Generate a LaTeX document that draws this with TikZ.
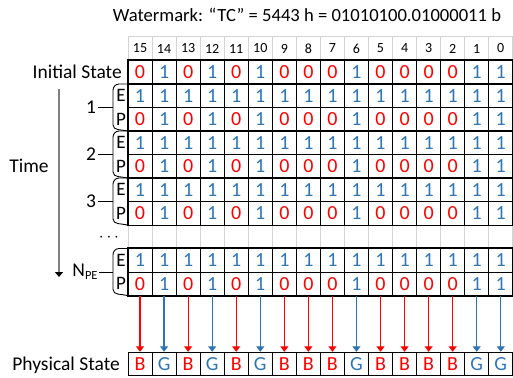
\documentclass[tikz,border=0pt]{standalone}
\usepackage{fontspec}
\setmainfont{Carlito}
\usetikzlibrary{arrows.meta}
\definecolor{bblue}{HTML}{2E75B6}
\definecolor{rred}{HTML}{FF0000}
\definecolor{lgray}{HTML}{D4D4D4}
\definecolor{tgray}{HTML}{808080}
\begin{document}
\begin{tikzpicture}[x=1pt,y=-1pt,
  cell/.style={draw, line width=0.9pt, minimum width=24.05pt, minimum height=23.5pt, inner sep=0pt, font=\fontsize{20}{20}\selectfont},
  bit0/.style={text=rred},
  bit1/.style={text=bblue},
  col0/.style={draw=rred},
  col1/.style={draw=bblue},
  block/.style={draw, line width=1.4pt},
  hdr/.style={font=\fontsize{14}{14}\selectfont, inner sep=0pt},
  lbl/.style={font=\fontsize{19.5}{20}\selectfont, inner sep=0pt},
  eplbl/.style={font=\fontsize{19}{19}\selectfont, inner sep=0pt},
  brk/.style={line width=0.9pt},
  arr/.style={line width=1.2pt, -{Triangle[width=8pt,length=5.5pt]}},
  grayln/.style={draw=lgray, line width=1pt}
]
\useasboundingbox (0,0) rectangle (513,377);
\def\bits{0,1,0,1,0,1,0,0,0,1,0,0,0,0,1,1}
\def\w{24.05}
% title
\node[font=\fontsize{18.6}{19}\selectfont, inner sep=0pt] (title) at (307,15) {Watermark: “TC” = 5443 h = 01010100.01000011 b};
% header
\draw[grayln] (128,37) -- (512.8,37);
\foreach \i in {0,...,16}{
  \draw[grayln] ({128+\w*\i},37) -- ({128+\w*\i},60.5);
  \draw[grayln] ({128+\w*\i},225) -- ({128+\w*\i},248.5);
}
\foreach \i in {0,...,15}{
  \pgfmathtruncatemacro{\n}{15-\i}
  \node[hdr] (h-\i) at ({128+\w*(\i+0.5)},48.5) {\n};
}
% initial state
\foreach \b [count=\c from 0] in \bits{
  \node[cell, bit\b] (ini-\c) at ({128+\w*(\c+0.5)},72.25) {\b};
}
\draw[block] (ini-0.north west) rectangle (ini-15.south east);
\node[lbl, anchor=east] (initlbl) at (122,72) {Initial State};
% blocks
\foreach \k/\ye in {1/95.75, 2/142.75, 3/189.75, 4/260.25}{
  \foreach \c in {0,...,15}{
    \node[cell, bit1] (E-\k-\c) at ({128+\w*(\c+0.5)},\ye) {1};
  }
  \foreach \b [count=\c from 0] in \bits{
    \node[cell, bit\b] (P-\k-\c) at ({128+\w*(\c+0.5)},{\ye+23.5}) {\b};
  }
  \draw[block] (E-\k-0.north west) rectangle (P-\k-15.south east);
  \node[eplbl] (Elab-\k) at (121,\ye) {E};
  \node[eplbl] (Plab-\k) at (121,{\ye+23.5}) {P};
  \draw[brk] (127.5,{\ye-11.75}) -- (119,{\ye-11.75}) to[out=180,in=90] (113,{\ye-5.5}) -- (113,{\ye+29}) to[out=-90,in=165] (127.5,{\ye+35.25});
  \coordinate (bm-\k) at (113,{\ye+11.75});
}
\node[lbl] (n1) at (91,107.5) {1};
\node[lbl] (n2) at (91,154.5) {2};
\node[lbl] (n3) at (91,201.5) {3};
\node[lbl] (n4) at (85,272) {N\raisebox{-0.35ex}{\fontsize{12.5}{12.5}\selectfont PE}};
\draw[brk] (n1.east) ++(1.5,0) -- (bm-1);
\draw[brk] (n2.east) ++(1.5,0) -- (bm-2);
\draw[brk] (n3.east) ++(1.5,0) -- (bm-3);
\draw[brk, line width=0.7pt] (n4.east) ++(1.5,0) -- (bm-4);
\node[font=\fontsize{16}{16}\selectfont, inner sep=0pt] (dots) at (109,238) {$\cdots$};
% time
\node[lbl] (time) at (29,166) {Time};
\coordinate (tstart) at (59,89);
\coordinate (tend) at (59,277);
\draw[draw=tgray, line width=1.4pt, -{Triangle[width=8pt,length=5pt,color=black]}] (tstart) -- (tend);
% physical
\foreach \b [count=\c from 0] in \bits{
  \node[cell, bit\b] (ph-\c) at ({128+\w*(\c+0.5)},364) {\ifnum\b=0 B\else G\fi};
  \draw[arr, col\b] (P-4-\c.south) -- (ph-\c.north);
}
\node[lbl, anchor=east] (physlbl) at (120,365) {Physical State};
\end{tikzpicture}
\end{document}
